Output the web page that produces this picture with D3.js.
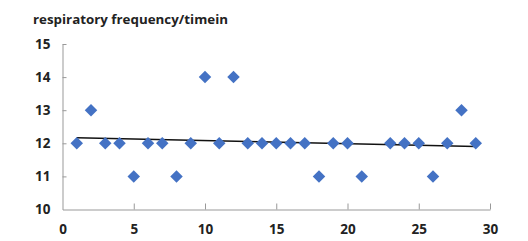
<!DOCTYPE html>
<html>
<head>
<meta charset="utf-8">
<script src="https://cdn.jsdelivr.net/npm/d3@7"></script>
<style>
  body { margin: 0; background: #fff; }
  text { font-family: "Open Sans", "Liberation Sans", sans-serif; font-weight: bold; fill: #222; }
</style>
</head>
<body>
<div id="chart"></div>
<script>
const title = 'respiratory frequency/timein';
const times = [1, 2, 3, 4, 5, 6, 7, 8, 9, 10, 11, 12, 13, 14, 15, 16, 17, 18, 19, 20, 21, 23, 24, 25, 26, 27, 28, 29];
const freqs = [12, 13, 12, 12, 11, 12, 12, 11, 12, 14, 12, 14, 12, 12, 12, 12, 12, 11, 12, 12, 11, 12, 12, 12, 11, 12, 13, 12];
const xTicks = [0, 5, 10, 15, 20, 25, 30];
const yTicks = [10, 11, 12, 13, 14, 15];

const width = 528, height = 241;
const margin = {top: 44, right: 38, bottom: 31, left: 62.5};

const svg = d3.select('#chart').append('svg')
  .attr('width', width)
  .attr('height', height);

const x = d3.scaleLinear().domain([0, 30]).range([margin.left, width - margin.right]);
const y = d3.scaleLinear().domain([10, 15]).range([height - margin.bottom - 0.5, margin.top]);

svg.append('text')
  .attr('x', 33)
  .attr('y', 24)
  .attr('font-size', 12.5)
  .attr('textLength', 195)
  .attr('lengthAdjust', 'spacingAndGlyphs')
  .text(title);

// axes, ticks pointing inward like the original
const xAxis = svg.append('g')
  .attr('transform', `translate(0,${y(10)})`)
  .call(d3.axisBottom(x).tickValues(xTicks).tickFormat(d3.format('d'))
    .tickSizeInner(-6).tickSizeOuter(0).tickPadding(15));

const yAxis = svg.append('g')
  .attr('transform', `translate(${x(0)},0)`)
  .call(d3.axisLeft(y).tickValues(yTicks).tickFormat(d3.format('d'))
    .tickSizeInner(-4).tickSizeOuter(0).tickPadding(12));

[xAxis, yAxis].forEach(g => {
  g.select('.domain').attr('stroke', '#999');
  g.selectAll('.tick line').attr('stroke', '#999');
  g.selectAll('.tick text').attr('font-size', 13.5).attr('fill', '#222').style('font-family', null);
});
xAxis.selectAll('.tick').filter(d => d === 0).select('line').remove();
yAxis.selectAll('.tick').filter(d => d === 10).select('line').remove();

// linear trend line from least squares fit of the data
const mx = d3.mean(times), my = d3.mean(freqs);
const sxy = d3.sum(times, (t, i) => (t - mx) * (freqs[i] - my));
const sxx = d3.sum(times, t => (t - mx) * (t - mx));
const slope = sxy / sxx, icpt = my - slope * mx;
const x0 = d3.min(times), x1 = d3.max(times);

svg.append('line')
  .attr('x1', x(x0)).attr('y1', y(icpt + slope * x0))
  .attr('x2', x(x1)).attr('y2', y(icpt + slope * x1))
  .attr('stroke', '#111')
  .attr('stroke-width', 1.5);

const diamond = d3.symbol().type(d3.symbolSquare).size(78);
svg.selectAll('.pt')
  .data(times.map((t, i) => ({t, v: freqs[i]})))
  .enter().append('path')
    .attr('class', 'pt')
    .attr('d', diamond)
    .attr('transform', d => `translate(${x(d.t)},${y(d.v)}) rotate(45)`)
    .attr('fill', '#4472C4');
</script>
</body>
</html>
